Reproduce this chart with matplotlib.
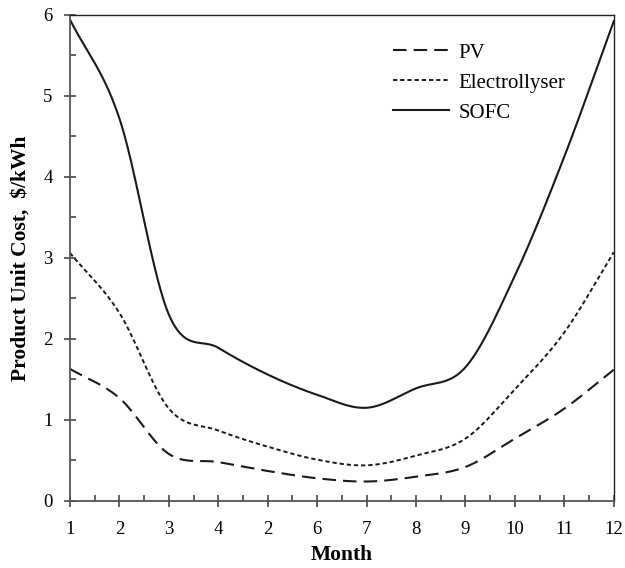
import numpy as np
import matplotlib
matplotlib.use("Agg")
import matplotlib.pyplot as plt
from matplotlib.ticker import MultipleLocator

months = [1, 2, 3, 4, 5, 6, 7, 8, 9, 10, 11, 12]
month_labels = ["1", "2", "3", "4", "2", "6", "7", "8", "9", "10", "11", "12"]
pv = [1.63, 1.27, 0.58, 0.48, 0.37, 0.28, 0.24, 0.30, 0.42, 0.77, 1.14, 1.62]
electrolyser = [3.06, 2.32, 1.14, 0.87, 0.67, 0.51, 0.44, 0.56, 0.77, 1.38, 2.08, 3.07]
sofc = [5.94, 4.72, 2.30, 1.89, 1.56, 1.31, 1.15, 1.39, 1.65, 2.78, 4.25, 5.92]
series_names = ["PV", "Electrollyser", "SOFC"]


def smooth(x, y, n=30):
    """Catmull-Rom rendering of a smoothed line through the data points (like Excel's smoothed lines)."""
    x = np.asarray(x, float)
    y = np.asarray(y, float)
    xs, ys = [], []
    for i in range(len(x) - 1):
        x0, x1 = x[i], x[i + 1]
        y0, y1 = y[i], y[i + 1]
        if i == 0:
            m0x, m0y = x1 - x0, y1 - y0
        else:
            m0x, m0y = (x1 - x[i - 1]) / 2, (y1 - y[i - 1]) / 2
        if i + 2 >= len(x):
            m1x, m1y = x1 - x0, y1 - y0
        else:
            m1x, m1y = (x[i + 2] - x0) / 2, (y[i + 2] - y0) / 2
        t = np.linspace(0, 1, n, endpoint=(i == len(x) - 2))
        h00 = 2 * t**3 - 3 * t**2 + 1
        h10 = t**3 - 2 * t**2 + t
        h01 = -2 * t**3 + 3 * t**2
        h11 = t**3 - t**2
        xs.append(h00 * x0 + h10 * m0x + h01 * x1 + h11 * m1x)
        ys.append(h00 * y0 + h10 * m0y + h01 * y1 + h11 * m1y)
    return np.concatenate(xs), np.concatenate(ys)


plt.rcParams['font.family'] = ['Liberation Serif', 'DejaVu Serif']

fig = plt.figure(figsize=(6.25, 5.68), dpi=100)
ax = fig.add_axes([0.112, 0.118, 0.870, 0.856])

styles = [
    dict(linestyle=(0, (6.5, 3.4)), linewidth=1.5),
    dict(linestyle=(0, (2.2, 1.5)), linewidth=1.4),
    dict(linestyle='-', linewidth=1.5),
]
for vals, name, st in zip([pv, electrolyser, sofc], series_names, styles):
    sx, sy = smooth(months, vals)
    ax.plot(sx, sy, color='#1a1a1a', label=name, **st)

ax.set_xlim(1, 12)
ax.set_ylim(0, 6)
ax.set_xticks(months)
ax.set_xticklabels(month_labels)
ax.xaxis.set_minor_locator(MultipleLocator(0.5))
ax.yaxis.set_major_locator(MultipleLocator(1))
ax.yaxis.set_minor_locator(MultipleLocator(0.5))

spine_col = '#555555'
for s in ax.spines.values():
    s.set_color(spine_col)
    s.set_linewidth(1.3)
ax.spines['top'].set_color('#222222')
ax.spines['right'].set_color('#222222')
ax.spines['top'].set_linewidth(1.0)
ax.spines['right'].set_linewidth(1.0)

ax.tick_params(axis='both', which='major', direction='inout', length=9, width=1.3,
               color=spine_col, labelsize=13.5)
ax.tick_params(axis='x', which='major', pad=10)
ax.tick_params(axis='y', which='major', pad=8)
ax.tick_params(axis='both', which='minor', direction='in', length=4, width=1.3,
               color=spine_col)

ax.set_xlabel('Month', fontsize=15.5, fontweight='bold', labelpad=5)
ax.set_ylabel('Product Unit Cost,  \\$/kWh', fontsize=15.5, fontweight='bold', labelpad=9)

leg = ax.legend(loc='upper left', bbox_to_anchor=(0.594, 0.942), frameon=False,
                fontsize=15, handlelength=2.7, handletextpad=0.45, labelspacing=0.5,
                borderaxespad=0, borderpad=0)

fig.savefig('out.png', dpi=100)
